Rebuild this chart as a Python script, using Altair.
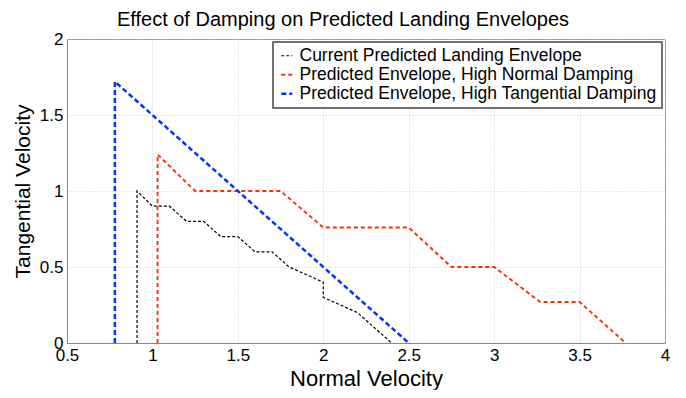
import altair as alt
import pandas as pd

series_names = [
    "Current Predicted Landing Envelope",
    "Predicted Envelope, High Normal Damping",
    "Predicted Envelope, High Tangential Damping",
]

current_x = [0.91, 0.91, 1.0, 1.1, 1.2, 1.3, 1.4, 1.5, 1.6, 1.7, 1.8, 2.0, 2.0, 2.2, 2.4]
current_y = [0.0, 1.0, 0.9, 0.9, 0.8, 0.8, 0.7, 0.7, 0.6, 0.6, 0.5, 0.4, 0.3, 0.2, 0.0]

normal_x = [1.03, 1.03, 1.25, 1.75, 2.0, 2.5, 2.75, 3.0, 3.27, 3.5, 3.77]
normal_y = [0.0, 1.24, 1.0, 1.0, 0.76, 0.76, 0.5, 0.5, 0.27, 0.27, 0.0]

tangential_x = [0.78, 0.78, 2.5]
tangential_y = [0.0, 1.72, 0.0]

x_ticks = [0.5, 1, 1.5, 2, 2.5, 3, 3.5, 4]
y_ticks = [0, 0.5, 1, 1.5, 2]

rows = []
for name, xs, ys in zip(series_names, [current_x, normal_x, tangential_x],
                        [current_y, normal_y, tangential_y]):
    for i, (xv, yv) in enumerate(zip(xs, ys)):
        rows.append({"series": name, "order": i, "x": xv, "y": yv})
df = pd.DataFrame(rows)

FONT = "Liberation Sans"

chart = (
    alt.Chart(df)
    .mark_line(clip=True)
    .encode(
        x=alt.X("x:Q", title="Normal Velocity",
                scale=alt.Scale(domain=[0.5, 4], nice=False, zero=False),
                axis=alt.Axis(values=x_ticks, format="~g", titleFontSize=22)),
        y=alt.Y("y:Q", title="Tangential Velocity",
                scale=alt.Scale(domain=[0, 2], nice=False),
                axis=alt.Axis(values=y_ticks, format="~g")),
        order="order:Q",
        color=alt.Color("series:N", title=None,
                        scale=alt.Scale(domain=series_names,
                                        range=["#000000", "#ff2a00", "#0033ff"])),
        strokeDash=alt.StrokeDash("series:N", title=None,
                                  scale=alt.Scale(domain=series_names,
                                                  range=[[3, 2], [4, 3], [5, 3]])),
        strokeWidth=alt.StrokeWidth("series:N", title=None,
                                    scale=alt.Scale(domain=series_names,
                                                    range=[1.2, 2.5, 3.2])),
    )
    .properties(
        width=598,
        height=304,
        title=alt.Title("Effect of Damping on Predicted Landing Envelopes",
                        fontSize=20, font=FONT, fontWeight="normal",
                        color="black", offset=0, dx=-23),
        autosize=alt.AutoSizeParams(type="none"),
        padding={"left": 59, "top": 31, "right": 13, "bottom": 47},
    )
    .configure_view(stroke="#888888", strokeWidth=1)
    .configure_axis(
        grid=True,
        gridColor="#cccccc",
        gridDash=[1, 2],
        gridWidth=1,
        domainColor="#888888",
        tickColor="#888888",
        ticks=False,
        labelFont=FONT,
        labelFontSize=17,
        labelColor="black",
        titleFont=FONT,
        titleFontSize=21,
        titleFontWeight="normal",
        titleColor="black",
    )
    .configure_axisX(labelPadding=4, titlePadding=5, labelFlush=False)
    .configure_axisY(labelPadding=4, titlePadding=6, labelFlush=False)
    .configure_legend(
        orient="top-right",
        offset=3,
        strokeColor="#444444",
        strokeWidth=1.5,
        fillColor="white",
        padding=5,
        labelFont=FONT,
        labelFontSize=17.5,
        labelColor="black",
        symbolType="stroke",
        symbolSize=120,
        rowPadding=0,
        labelLimit=500,
    )
)

chart.save("out.html", embed_options={"renderer": "svg", "actions": False})
